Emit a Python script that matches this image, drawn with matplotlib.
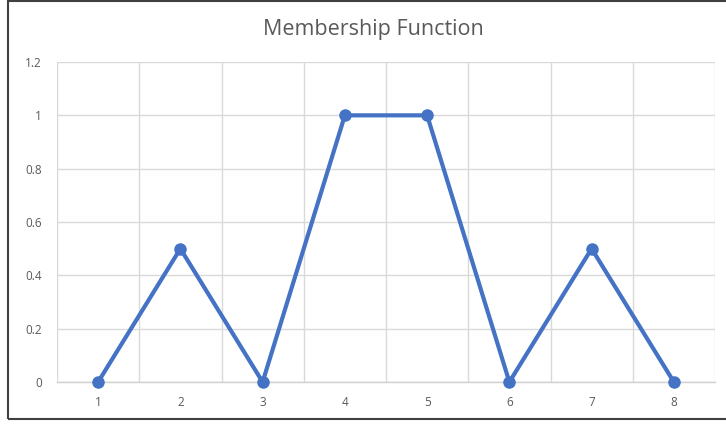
import matplotlib
matplotlib.use("Agg")
import matplotlib.pyplot as plt
from matplotlib.patches import Rectangle
import numpy as np

categories = ["1", "2", "3", "4", "5", "6", "7", "8"]
values = [0, 0.5, 0, 1, 1, 0, 0.5, 0]
y_ticks = [0, 0.2, 0.4, 0.6, 0.8, 1, 1.2]
y_tick_labels = ["0", "0.2", "0.4", "0.6", "0.8", "1", "1.2"]
title = "Membership Function"

W, H = 726, 424
fig = plt.figure(figsize=(W / 100, H / 100), dpi=100)
fig.patch.set_facecolor("white")

ax = fig.add_axes([57 / W, 1 - 382 / H, (715 - 57) / W, (382 - 62) / H])
x = np.arange(1, len(categories) + 1)
ax.plot(x, values, color="#4472C4", lw=3.0, marker="o", markersize=8,
        solid_joinstyle="round", zorder=3, clip_on=False)

ax.set_xlim(0.5, len(categories) + 0.5)
ax.set_ylim(0, 1.2)
ax.set_yticks(y_ticks)
ax.set_yticklabels(y_tick_labels)
ax.set_xticks(x)
ax.set_xticklabels(categories)
ax.set_xticks(np.arange(0.5, len(categories) + 1, 1), minor=True)
ax.grid(True, which="minor", axis="x", color="#D9D9D9", lw=1)
ax.grid(True, which="major", axis="y", color="#D9D9D9", lw=1)
ax.tick_params(which="both", length=0)
ax.tick_params(axis="x", pad=10)
ax.tick_params(axis="y", pad=11)
for lbl in ax.get_xticklabels() + ax.get_yticklabels():
    lbl.set_fontsize(8.5)
    lbl.set_color("#595959")
    lbl.set_family("Open Sans")
for s in ["top", "right", "left"]:
    ax.spines[s].set_visible(False)
ax.spines["bottom"].set_color("#D0D0D0")
ax.spines["bottom"].set_linewidth(1)

fig.text(373 / W, 1 - 29 / H, title, ha="center", va="center",
         fontsize=15.5, color="#595959", family="Open Sans")

fig.patches.append(Rectangle((8 / W, 1 - 419 / H), (W + 10 - 8) / W, (419 - 1) / H,
                             transform=fig.transFigure, fill=False,
                             edgecolor="#404040", lw=1.5, zorder=10))

fig.savefig("out.png", dpi=100)
